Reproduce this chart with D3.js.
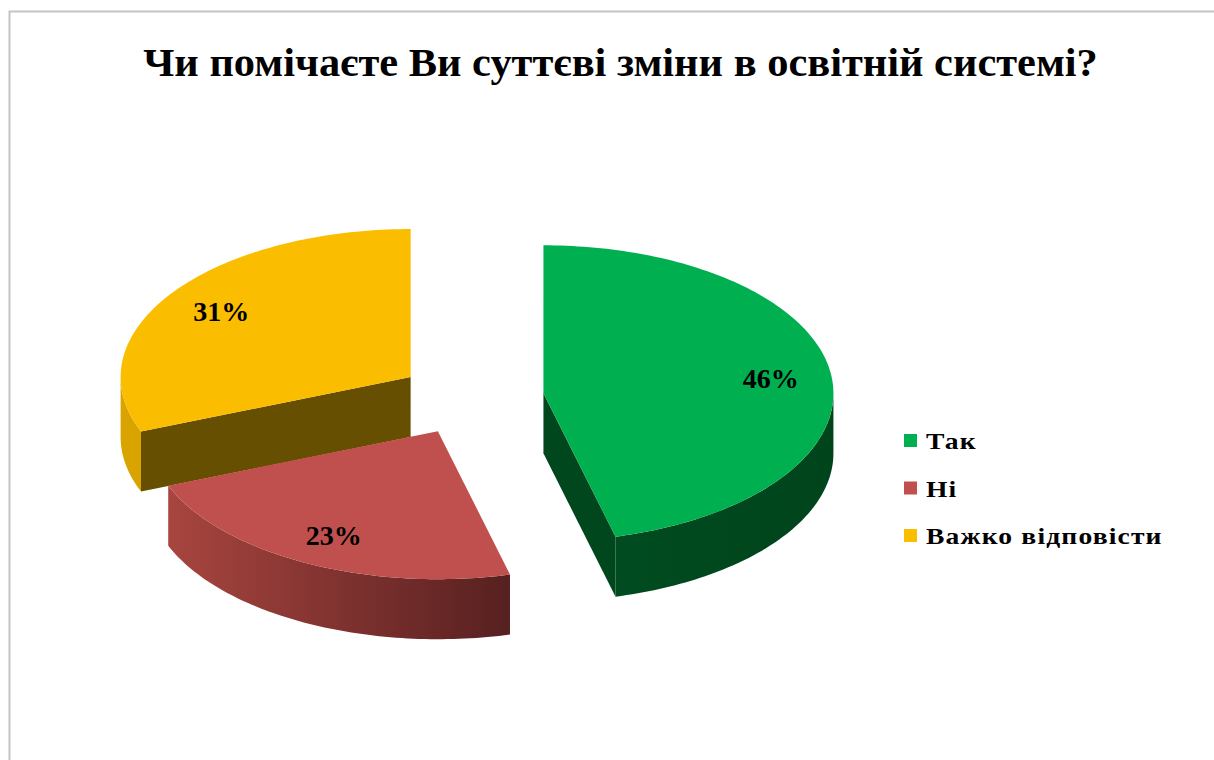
<!DOCTYPE html>
<html><head><meta charset="utf-8">
<script src="https://cdn.jsdelivr.net/npm/d3@7"></script>
<style>body{margin:0;background:#fff}svg{display:block}</style>
</head><body>
<svg id="chart" width="1214" height="760"></svg>
<script>
const title = "Чи помічаєте Ви суттєві зміни в освітній системі?";
const categories = ["Так", "Ні", "Важко відповісти"];
const values = [46, 23, 31];
const topColors = ["#00B050", "#C0504D", "#FBBD00"];
const wallColors = ["#00471E", "#7A3030", "#D9A300"];
const sideColors = ["#00471E", "#5E2424", "#664F00"];

const W = 1214, H = 760;
const svg = d3.select("#chart");
const font = "'Liberation Serif','Times New Roman',serif";

// frame
svg.append("path").attr("d", `M9.5,${H} L9.5,11.5 L${W},11.5`).attr("fill","none").attr("stroke","#c4c4c4").attr("stroke-width",2);

// title (condensed, as in the reference)
const tcx = 620.5, tBase = 76, tWidth = 955;
const tg = svg.append("g");
const t = tg.append("text").attr("x", 0).attr("y", 0).attr("text-anchor","middle")
  .attr("font-family", font).attr("font-weight","bold").attr("font-size", 41).attr("fill","#000").text(title);
const tw = t.node().getComputedTextLength();
tg.attr("transform", `translate(${tcx},${tBase}) scale(${tWidth / tw},1)`);

// geometry
const cx = 471, cy = 398, rx = 290, ry = 148, depth = 60, explode = 73;
const sx = d3.scaleLinear().domain([-1, 1]).range([cx - rx, cx + rx]);
const sy = d3.scaleLinear().domain([-1, 1]).range([cy - ry, cy + ry]);

const pie = d3.pie().sort(null).value(d => d).startAngle(0).endAngle(2 * Math.PI);
const arcs = pie(values).map((a, i) => {
  const mid = (a.startAngle + a.endAngle) / 2;
  const ox = explode * Math.sin(mid), oy = -explode * Math.cos(mid) * ry / rx;
  return {...a, i, mid, ox, oy};
});

function P(a, r, d, dz) {
  return [sx(r * Math.sin(a)) + d.ox, sy(-r * Math.cos(a)) + d.oy + (dz || 0)];
}
function arcPts(a0, a1, d, dz) {
  const n = Math.max(4, Math.ceil((a1 - a0) / 0.02));
  return d3.range(n + 1).map(k => P(a0 + (a1 - a0) * k / n, 1, d, dz));
}
const line = d3.line();

const defs = svg.append("defs");
const grad = defs.append("linearGradient").attr("id","redwall").attr("x1","0%").attr("x2","100%").attr("y1","0%").attr("y2","0%");
grad.append("stop").attr("offset","0%").attr("stop-color","#A8453F");
grad.append("stop").attr("offset","100%").attr("stop-color","#572020");
const ggrad = defs.append("linearGradient").attr("id","greenwall").attr("x1","0%").attr("x2","100%");
ggrad.append("stop").attr("offset","0%").attr("stop-color","#004B20");
ggrad.append("stop").attr("offset","100%").attr("stop-color","#00441C");

const order = arcs.slice().sort((a, b) => a.oy - b.oy);
const g = svg.append("g");
order.forEach(d => {
  const c = [cx + d.ox, cy + d.oy];
  const cb = [c[0], c[1] + depth];
  const startN = d.startAngle - Math.PI / 2, endN = d.endAngle + Math.PI / 2;
  [[d.startAngle, startN], [d.endAngle, endN]].forEach(([a, n]) => {
    if (Math.cos(n) < -1e-6) {
      const p = P(a, 1, d), pb = P(a, 1, d, depth);
      g.append("path").attr("d", line([c, p, pb, cb]) + "Z").attr("fill", sideColors[d.i]);
    }
  });
  const s = Math.max(d.startAngle, Math.PI / 2), e = Math.min(d.endAngle, 3 * Math.PI / 2);
  if (e > s) {
    const top = arcPts(s, e, d, 0), bot = arcPts(s, e, d, depth).reverse();
    const fill = d.i === 1 ? "url(#redwall)" : d.i === 0 ? "url(#greenwall)" : wallColors[d.i];
    g.append("path").attr("d", line(top.concat(bot)) + "Z").attr("fill", fill);
  }
  const topPts = [c].concat(arcPts(d.startAngle, d.endAngle, d, 0));
  g.append("path").attr("d", line(topPts) + "Z").attr("fill", topColors[d.i]);
});

// labels
arcs.forEach(d => {
  const p = P(d.mid, 0.79, d);
  svg.append("text").attr("x", p[0]).attr("y", p[1]).attr("dy", "0.35em").attr("text-anchor","middle")
    .attr("font-family", font).attr("font-weight","bold").attr("font-size", 28).attr("fill","#000")
    .text(Math.round(d.data) + "%");
});

// legend
const ly = d3.scalePoint().domain(categories).range([441, 536]);
const lg = svg.append("g");
categories.forEach((c, i) => {
  lg.append("rect").attr("x", 904).attr("y", ly(c) - 7).attr("width", 13).attr("height", 13).attr("fill", topColors[i]);
  lg.append("text").attr("transform", `translate(926,${ly(c)}) scale(1.15,1)`).attr("dy","0.35em")
    .attr("font-family", font).attr("font-weight","bold")
    .attr("font-size", 24).attr("letter-spacing", 1).attr("fill","#000").text(c);
});
</script>
</body></html>
